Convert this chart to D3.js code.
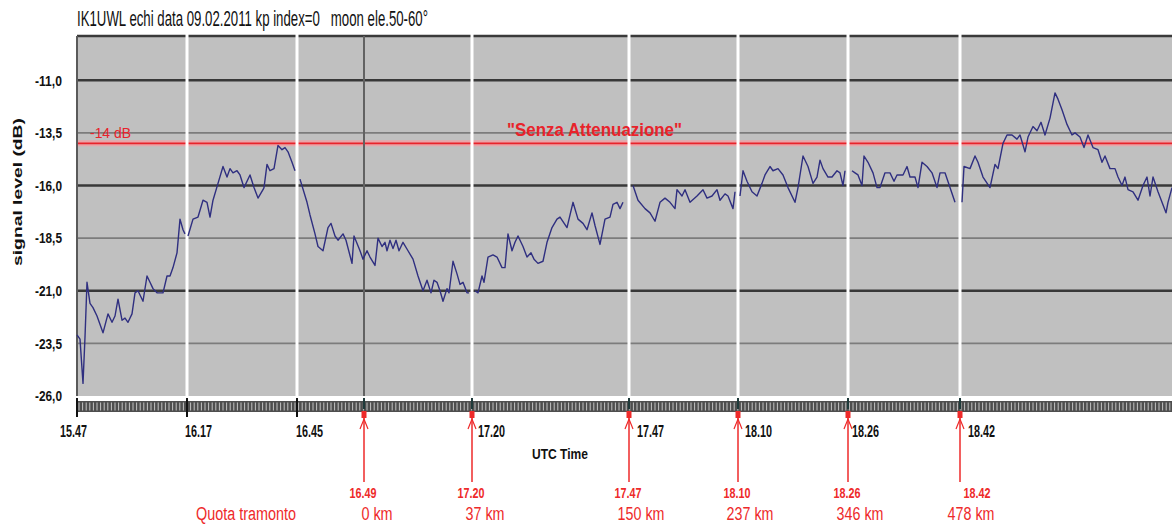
<!DOCTYPE html>
<html>
<head>
<meta charset="utf-8">
<script src="https://cdn.jsdelivr.net/npm/d3@7/dist/d3.min.js"></script>
<style>
  body { margin: 0; background: #fff; }
  text { font-family: "Liberation Sans Narrow", "Liberation Sans", Arial, sans-serif; }
</style>
</head>
<body>
<div id="wrapper"></div>
<script>
// echo sessions: [sample, dB], one array per recording
const s1547 = [[0,-23.1],[3,-23.3],[6,-25.4],[8,-23.2],[10,-20.6],[13,-21.6],[16,-21.8],[20,-22.2],[26,-23.0],[31,-22.1],[35,-22.5],[38,-22.2],[41,-21.4],[45,-22.4],[48,-22.3],[51,-22.5],[55,-22.1],[58,-21.1],[61,-21.0],[66,-21.5],[70,-20.3],[73,-20.6],[76,-20.9],[80,-21.1],[83,-21.1],[86,-21.1],[90,-20.3],[93,-20.3],[96,-19.9],[100,-19.2],[103,-17.6],[106,-18.1],[108,-18.3]]
const s1617 = [[111,-18.4],[116,-17.6],[121,-17.5],[126,-16.7],[130,-16.8],[133,-17.5],[136,-16.7],[141,-15.9],[146,-15.1],[150,-15.6],[153,-15.2],[156,-15.4],[160,-15.3],[163,-15.5],[167,-16.1],[173,-15.5],[177,-16.1],[181,-16.6],[186,-16.2],[187,-16.1],[190,-15.0],[193,-15.3],[197,-15.2],[201,-14.1],[205,-14.3],[208,-14.2],[211,-14.4],[215,-14.9],[218,-15.3]]
const s1645 = [[223,-15.7],[230,-16.8],[233,-17.4],[238,-18.3],[241,-18.9],[246,-19.1],[251,-18.0],[254,-17.8],[258,-18.4],[261,-18.6],[266,-18.3],[269,-18.6],[275,-19.7],[277,-18.4],[283,-19.1],[286,-19.5],[290,-19.1],[293,-19.4],[298,-19.8],[301,-18.5],[305,-18.9],[308,-18.7],[310,-19.1],[313,-18.6],[316,-19.0],[319,-18.6],[322,-19.1],[326,-18.7],[331,-19.1],[336,-19.5],[341,-20.3],[346,-21.0],[350,-20.5],[354,-21.1],[357,-20.5],[360,-20.6],[363,-21.0],[366,-21.5],[370,-20.9],[372,-21.1],[376,-19.6],[380,-20.2],[383,-20.7],[386,-20.6],[390,-21.1],[392,-21.1]]
const s1720 = [[398,-21.0],[401,-21.1],[405,-20.3],[407,-20.6],[411,-19.4],[416,-19.3],[420,-19.4],[425,-19.9],[428,-19.9],[431,-18.3],[435,-19.1],[438,-18.7],[441,-18.4],[446,-18.9],[450,-19.4],[454,-19.2],[457,-19.5],[461,-19.7],[466,-19.6],[470,-18.7],[475,-18.0],[480,-17.6],[483,-17.5],[490,-18.0],[496,-16.8],[501,-17.6],[506,-17.8],[510,-18.1],[515,-17.3],[518,-17.9],[523,-18.8],[528,-17.6],[533,-17.5],[536,-16.9],[540,-16.8],[543,-17.1],[546,-16.8]]
const s1747 = [[556,-16.0],[561,-16.7],[568,-17.1],[573,-17.3],[578,-17.7],[583,-16.8],[588,-16.6],[593,-16.8],[598,-17.1],[600,-16.2],[605,-16.5],[608,-16.2],[613,-16.8],[620,-16.5],[626,-16.2],[630,-16.6],[635,-16.5],[640,-16.2],[643,-16.7],[648,-16.4],[651,-16.5],[656,-17.1],[658,-16.3]]
const s1810 = [[663,-16.5],[666,-15.3],[670,-15.8],[675,-16.3],[680,-16.5],[685,-15.9],[688,-15.5],[693,-15.1],[696,-15.3],[701,-15.2],[706,-15.5],[711,-16.1],[718,-16.8],[721,-16.1],[726,-14.6],[731,-15.1],[736,-15.9],[740,-15.6],[743,-14.8],[746,-15.2],[751,-15.6],[755,-15.6],[760,-15.3],[763,-15.4],[766,-16.0],[768,-15.3]]
const s1826 = [[775,-15.3],[778,-15.4],[781,-15.5],[785,-16.0],[787,-14.6],[791,-14.9],[796,-15.4],[800,-16.1],[803,-16.1],[808,-15.4],[813,-15.4],[817,-15.8],[820,-15.5],[826,-15.5],[830,-15.1],[833,-15.6],[838,-15.6],[841,-16.1],[845,-14.9],[850,-15.1],[855,-15.4],[860,-16.1],[863,-15.4],[868,-15.4],[873,-16.1],[878,-16.8]]
const s1842 = [[885,-16.8],[887,-15.1],[893,-15.2],[898,-14.6],[901,-14.9],[906,-15.6],[913,-16.1],[918,-15.0],[921,-15.2],[926,-14.0],[930,-13.6],[935,-13.6],[940,-13.8],[943,-13.6],[948,-14.4],[951,-13.7],[956,-13.2],[960,-13.4],[964,-13.0],[968,-13.6],[973,-12.8],[978,-11.6],[981,-11.9],[985,-12.4],[990,-13.1],[995,-13.6],[998,-13.5],[1003,-13.7],[1007,-14.2],[1011,-13.6],[1016,-14.2],[1021,-14.3],[1025,-14.9],[1028,-14.6],[1033,-15.2],[1038,-15.2],[1041,-15.6],[1045,-16.0],[1048,-15.6],[1051,-16.2],[1056,-16.3],[1061,-16.7],[1066,-16.0],[1070,-15.6],[1073,-16.5],[1076,-15.6],[1081,-16.3],[1085,-16.8],[1089,-17.3],[1091,-16.8],[1095,-16.1]]
const sessions = [s1547, s1617, s1645, s1720, s1747, s1810, s1826, s1842]

// axis
const yTicks = [-11, -13.5, -16, -18.5, -21, -23.5, -26]
const tickTimes = ["15.47", "16.17", "16.45", "16.49", "17.20", "17.47", "18.10", "18.26", "18.42"]
const tickSamples = [0, 110, 220, 287, 395, 552, 661, 771, 883]

// reference level and moonset annotations
const refLevel = -14
const markerTimes = ["16.49", "17.20", "17.47", "18.10", "18.26", "18.42"]
const markerKm = ["0 km", "37 km", "150 km", "237 km", "346 km", "478 km"]

function drawChart() {
  const dimensions = {
    width: 1172,
    height: 524,
    margin: { top: 36, right: -2, bottom: 128, left: 77 },
  }
  dimensions.boundedWidth = dimensions.width - dimensions.margin.left - dimensions.margin.right
  dimensions.boundedHeight = dimensions.height - dimensions.margin.top - dimensions.margin.bottom

  const wrapper = d3.select("#wrapper")
    .append("svg")
      .attr("width", dimensions.width)
      .attr("height", dimensions.height)
      .style("display", "block")

  const bounds = wrapper.append("g")
      .attr("transform", `translate(${dimensions.margin.left},${dimensions.margin.top})`)

  const xScale = d3.scaleLinear()
    .domain([0, 1097])
    .range([0, dimensions.boundedWidth])
  const yScale = d3.scaleLinear()
    .domain([-26, -8.9])
    .range([dimensions.boundedHeight, 0])

  const bh = dimensions.boundedHeight
  const bw = dimensions.boundedWidth

  // plot background
  bounds.append("rect")
      .attr("width", bw)
      .attr("height", bh)
      .attr("fill", "#c0c0c0")

  // horizontal grid: thin at the half steps, heavy at -11, -16, -21
  bounds.append("g").selectAll("line")
    .data(yTicks.filter(d => d > -26))
    .join("line")
      .attr("x1", 0)
      .attr("x2", bw)
      .attr("y1", d => yScale(d))
      .attr("y2", d => yScale(d))
      .attr("stroke", d => Number.isInteger(d) ? "#383838" : "#7c7c7c")
      .attr("stroke-width", d => Number.isInteger(d) ? 2.6 : 1.6)

  // top border
  bounds.append("line")
      .attr("x1", 0).attr("x2", bw)
      .attr("y1", 0).attr("y2", 0)
      .attr("stroke", "#3a3a3a")
      .attr("stroke-width", 2.6)

  // -14 dB reference
  bounds.append("line")
      .attr("x1", 0).attr("x2", bw)
      .attr("y1", yScale(refLevel)).attr("y2", yScale(refLevel))
      .attr("stroke", "#eaa4a8")
      .attr("stroke-width", 6)
  bounds.append("line")
      .attr("x1", 0).attr("x2", bw)
      .attr("y1", yScale(refLevel)).attr("y2", yScale(refLevel))
      .attr("stroke", "#e8232b")
      .attr("stroke-width", 1.8)

  // session separators
  const ticks = tickTimes.map((t, i) => ({ time: t, sample: tickSamples[i] }))
  bounds.append("g").selectAll("line")
    .data(ticks.filter(d => d.time != "15.47" && d.time != "16.49"))
    .join("line")
      .attr("x1", d => xScale(d.sample)).attr("x2", d => xScale(d.sample))
      .attr("y1", -3).attr("y2", bh + 2)
      .attr("stroke", "#ffffff")
      .attr("stroke-width", 3)
  bounds.append("line")
      .attr("x1", xScale(287)).attr("x2", xScale(287))
      .attr("y1", 0).attr("y2", bh)
      .attr("stroke", "#626262")
      .attr("stroke-width", 2)

  // left border
  bounds.append("line")
      .attr("x1", 0).attr("x2", 0)
      .attr("y1", 0).attr("y2", bh)
      .attr("stroke", "#5a5a5a")
      .attr("stroke-width", 2)

  // signal
  const lineGenerator = d3.line()
    .x(d => xScale(d[0]))
    .y(d => yScale(d[1]))
  bounds.append("g").selectAll("path")
    .data(sessions)
    .join("path")
      .attr("d", lineGenerator)
      .attr("fill", "none")
      .attr("stroke", "#2f2f80")
      .attr("stroke-width", 1.4)
      .attr("stroke-linejoin", "round")

  bounds.append("text")
      .attr("x", 13)
      .attr("y", yScale(refLevel) - 5)
      .attr("fill", "#e8232b")
      .attr("font-size", 15)
      .attr("textLength", 41)
      .attr("lengthAdjust", "spacingAndGlyphs")
      .text("-14 dB")
  bounds.append("text")
      .attr("x", 430)
      .attr("y", yScale(refLevel) - 7)
      .attr("fill", "#e8232b")
      .attr("font-size", 19)
      .attr("font-weight", "bold")
      .attr("textLength", 175)
      .attr("lengthAdjust", "spacingAndGlyphs")
      .text("\"Senza Attenuazione\"")

  // y axis
  const yAxisGenerator = d3.axisLeft(yScale)
    .tickValues(yTicks)
    .tickSize(0)
    .tickPadding(15)
    .tickFormat(d => d3.format(".1f")(d).replace(".", ",").replace("−", "-"))
  const yAxis = bounds.append("g").call(yAxisGenerator)
  yAxis.select(".domain").remove()
  yAxis.selectAll("text")
      .attr("font-family", null)
      .attr("font-size", 15)
      .attr("font-weight", "bold")
      .attr("fill", "#111")
      .attr("textLength", 27)
      .attr("lengthAdjust", "spacingAndGlyphs")

  wrapper.append("text")
      .attr("transform", "translate(22,192) rotate(-90)")
      .attr("text-anchor", "middle")
      .attr("font-size", 13)
      .attr("font-weight", "bold")
      .attr("fill", "#111")
      .attr("textLength", 148)
      .attr("lengthAdjust", "spacingAndGlyphs")
      .text("signal level (dB)")

  // x axis band
  const band = bounds.append("g")
      .attr("transform", `translate(0,${bh + 5})`)
  band.append("rect")
      .attr("width", bw)
      .attr("height", 11)
      .attr("fill", "#4e4e4e")
  band.selectAll(".minor")
    .data(d3.range(2, 1097, 3.6))
    .join("line")
      .attr("class", "minor")
      .attr("x1", d => xScale(d)).attr("x2", d => xScale(d))
      .attr("y1", 1.5).attr("y2", 9.5)
      .attr("stroke", "#d0d0d0")
      .attr("stroke-width", 0.9)
  band.selectAll(".major")
    .data(ticks)
    .join("line")
      .attr("class", "major")
      .attr("x1", d => xScale(d.sample)).attr("x2", d => xScale(d.sample))
      .attr("y1", -3)
      .attr("y2", d => markerTimes.includes(d.time) ? 8 : 16)
      .attr("stroke", d => markerTimes.includes(d.time) ? "#1f3a3a" : "#111")
      .attr("stroke-width", 2)

  const labelOffset = { "15.47": -17, "16.17": -2, "16.45": -1, "17.20": 6, "17.47": 8, "18.10": 7, "18.26": 4, "18.42": 8 }
  bounds.append("g").selectAll("text")
    .data(ticks.filter(d => d.time != "16.49"))
    .join("text")
      .attr("x", d => xScale(d.sample) + labelOffset[d.time])
      .attr("y", bh + 41)
      .attr("font-size", 16)
      .attr("font-weight", "bold")
      .attr("fill", "#111")
      .attr("textLength", 27)
      .attr("lengthAdjust", "spacingAndGlyphs")
      .text(d => d.time)

  bounds.append("text")
      .attr("x", 532 - dimensions.margin.left)
      .attr("y", bh + 63)
      .attr("font-size", 15)
      .attr("font-weight", "bold")
      .attr("fill", "#111")
      .attr("textLength", 56)
      .attr("lengthAdjust", "spacingAndGlyphs")
      .text("UTC Time")

  // moonset markers
  const markers = markerTimes.map((t, i) => ({
    time: t,
    km: markerKm[i],
    sample: tickSamples[tickTimes.indexOf(t)],
  }))
  const red = "#ee2a2a"
  const markerGroups = bounds.append("g").selectAll("g")
    .data(markers)
    .join("g")
      .attr("transform", d => `translate(${xScale(d.sample)},${bh})`)
  markerGroups.append("rect")
      .attr("x", -2.5).attr("y", 15)
      .attr("width", 5).attr("height", 7)
      .attr("fill", red)
  markerGroups.append("line")
      .attr("x1", 0).attr("x2", 0)
      .attr("y1", 22).attr("y2", 86)
      .attr("stroke", red)
      .attr("stroke-width", 1.5)
  markerGroups.append("path")
      .attr("d", "M-4,33 L0,23 L4,33")
      .attr("fill", "none")
      .attr("stroke", red)
      .attr("stroke-width", 1.2)
  markerGroups.append("text")
      .attr("x", d => d.time == "18.42" ? 17 : -1)
      .attr("y", 102)
      .attr("text-anchor", "middle")
      .attr("font-size", 15)
      .attr("font-weight", "bold")
      .attr("fill", red)
      .attr("textLength", 27)
      .attr("lengthAdjust", "spacingAndGlyphs")
      .text(d => d.time)
  markerGroups.append("text")
      .attr("x", d => d.time == "18.42" ? 11 : d.km.length > 5 ? 12 : 13)
      .attr("y", 124)
      .attr("text-anchor", "middle")
      .attr("font-size", 18)
      .attr("fill", red)
      .attr("textLength", d => d.km.length * 7.8)
      .attr("lengthAdjust", "spacingAndGlyphs")
      .text(d => d.km)

  wrapper.append("text")
      .attr("x", 196)
      .attr("y", dimensions.margin.top + bh + 124)
      .attr("font-size", 18)
      .attr("fill", red)
      .attr("textLength", 100)
      .attr("lengthAdjust", "spacingAndGlyphs")
      .text("Quota tramonto")

  // title
  wrapper.append("text")
      .attr("x", 77)
      .attr("y", 26)
      .attr("font-size", 22)
      .attr("fill", "#111")
      .attr("xml:space", "preserve")
      .style("white-space", "pre")
      .attr("textLength", 351)
      .attr("lengthAdjust", "spacingAndGlyphs")
      .text("IK1UWL echi data 09.02.2011 kp index=0   moon ele.50-60°")
}
drawChart()
</script>
</body>
</html>
